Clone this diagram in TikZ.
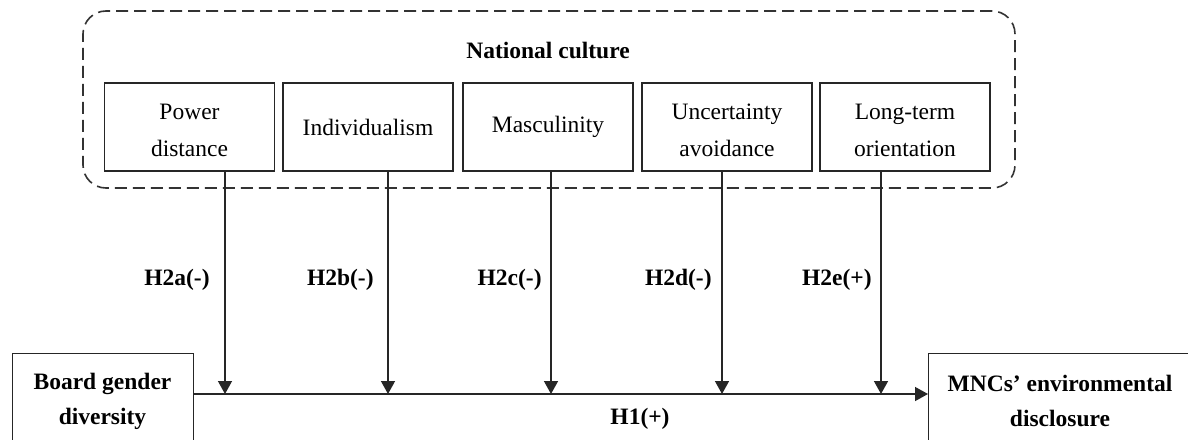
\documentclass[tikz,border=0pt]{standalone}
\usepackage{fontspec}
\setmainfont{Liberation Serif}
\usetikzlibrary{arrows.meta}
\newcommand{\twolines}[2]{\raisebox{-5pt}[0pt][0pt]{\begin{tabular}{@{}c@{}}#1\\#2\end{tabular}}}
\begin{document}
\begin{tikzpicture}[x=0.5pt,y=-0.5pt,
  txt/.style={font=\fontsize{11.75pt}{18.5pt}\selectfont, align=center, inner sep=0pt},
  dimbox/.style={txt, draw=black!85, line width=0.6pt, minimum width=85pt, minimum height=44pt},
  varbox/.style={txt, font=\fontsize{11.75pt}{17.5pt}\selectfont\bfseries, draw=black!85, line width=0.6pt, minimum width=132pt, minimum height=48pt},
  group/.style={draw=black!80, line width=0.8pt, dash pattern=on 6pt off 3pt, rounded corners=11.5pt, minimum width=466pt, minimum height=88.5pt, inner sep=0pt},
  hlab/.style={txt, font=\fontsize{11.75pt}{14pt}\selectfont\bfseries, anchor=east},
  arr/.style={line width=0.7pt, draw=black!85, -{Triangle[length=6.5pt,width=7pt]}}
]
\clip (0,0) rectangle (1188,439);
\fill[white] (0,0) rectangle (1188,439);
\node[group] (nc) at (549,99.5) {};
\node[txt, font=\fontsize{11.75pt}{14pt}\selectfont\bfseries] (nct) at (548,50) {National culture};
\node[dimbox] (b1) at (189.5,127) {\twolines{Power}{distance}};
\node[dimbox] (b2) at (368,127) {Individualism};
\node[dimbox] (b3) at (548,127) {Masculinity};
\node[dimbox] (b4) at (727,127) {\twolines{Uncertainty}{avoidance}};
\node[dimbox] (b5) at (905,127) {\twolines{Long-term}{orientation}};
\node[varbox, minimum width=90.7pt, minimum height=50pt, anchor=north west] (bg) at (11.7,352.7) {};
\node[txt, font=\fontsize{11.75pt}{17.5pt}\selectfont\bfseries] (bgt) at (102.5,401) {Board gender\\diversity};
\node[varbox, anchor=north west] (mnc) at (928,352.7) {};
\node[txt, font=\fontsize{11.75pt}{17.5pt}\selectfont\bfseries] (mnct) at (1060,401) {MNCs’ environmental\\disclosure};
\coordinate (m1) at (225,394);
\coordinate (m2) at (388,394);
\coordinate (m3) at (551,394);
\coordinate (m4) at (722,394);
\coordinate (m5) at (881,394);
\draw[arr] (bg.east |- m1) -- (mnc.west |- m1);
\draw[arr] (b1.south -| m1) -- (m1);
\draw[arr] (b2.south -| m2) -- (m2);
\draw[arr] (b3.south -| m3) -- (m3);
\draw[arr] (b4.south -| m4) -- (m4);
\draw[arr] (b5.south -| m5) -- (m5);
\node[hlab] (l1) at (210,280) {H2a(-)};
\node[hlab] (l2) at (374,280) {H2b(-)};
\node[hlab] (l3) at (542,280) {H2c(-)};
\node[hlab] (l4) at (712,280) {H2d(-)};
\node[hlab] (l5) at (872,280) {H2e(+)};
\node[txt, font=\fontsize{11.75pt}{14pt}\selectfont\bfseries] (h1) at (640,419) {H1(+)};
\end{tikzpicture}
\end{document}
